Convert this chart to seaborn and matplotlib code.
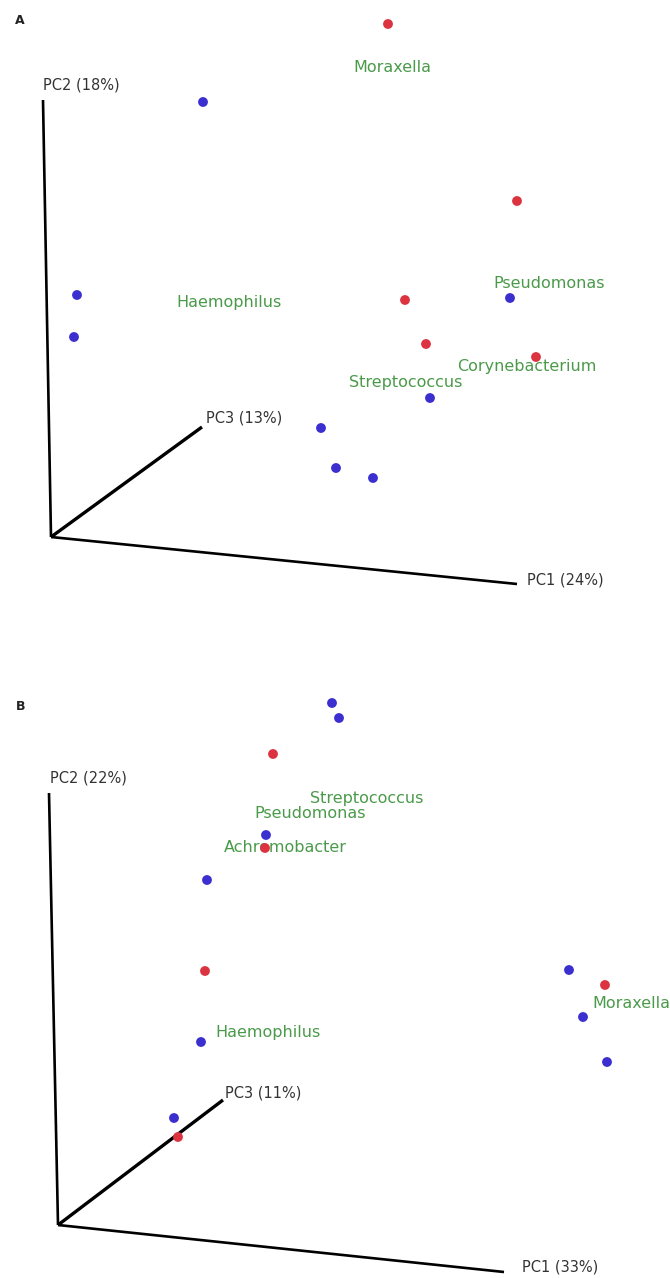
import matplotlib
matplotlib.use("Agg")
import matplotlib.pyplot as plt
import seaborn as sns
import pandas as pd

sns.set_theme(style="white")
plt.rcParams['font.family'] = ['DejaVu Sans']

# ---------------- data (projected screen positions, pixels) ----------------
# Panel A
a_red_x = [388, 517, 405, 426, 536]
a_red_y = [24, 201, 300, 344, 357]
a_blue_x = [203, 77, 74, 510, 430, 321, 336, 373]
a_blue_y = [102, 295, 337, 298, 398, 428, 468, 478]
a_taxa = ["Moraxella", "Haemophilus", "Pseudomonas", "Corynebacterium", "Streptococcus"]
a_taxa_x = [392, 229, 549, 527, 406]
a_taxa_y = [68, 303, 284, 366, 383]
a_axis_names = ["PC1 (24%)", "PC2 (18%)", "PC3 (13%)"]

# Panel B
b_red_x = [273, 265, 205, 605, 178]
b_red_y = [754, 848, 971, 985, 1137]
b_blue_x = [332, 339, 266, 207, 569, 583, 607, 201, 174]
b_blue_y = [703, 718, 835, 880, 970, 1017, 1062, 1042, 1118]
b_taxa = ["Streptococcus", "Pseudomonas", "Achromobacter", "Moraxella", "Haemophilus"]
b_taxa_x = [367, 310, 285, 592, 268]
b_taxa_y = [799, 814, 848, 1003, 1033]
b_axis_names = ["PC1 (33%)", "PC2 (22%)", "PC3 (11%)"]

W, H = 670, 1278
fig = plt.figure(figsize=(W / 100, H / 100), dpi=100)
ax = fig.add_axes([0, 0, 1, 1])

pts = pd.DataFrame({
    "x": a_red_x + a_blue_x + b_red_x + b_blue_x,
    "y": a_red_y + a_blue_y + b_red_y + b_blue_y,
    "group": (["red"] * len(a_red_x) + ["blue"] * len(a_blue_x)
              + ["red"] * len(b_red_x) + ["blue"] * len(b_blue_x)),
})

# pseudo-3D axes: origin, PC1 end, PC2 end, PC3 end
axes_geom = [
    dict(o=(51, 537), pc1=(517, 584), pc2=(43, 100), pc3=(202, 427),
         names=a_axis_names, l1=(527, 580), l2=(43, 85), l3=(206, 418),
         letter="A", lpos=(20, 20)),
    dict(o=(58, 1225), pc1=(504, 1272), pc2=(49, 793), pc3=(223, 1100),
         names=b_axis_names, l1=(522, 1267), l2=(50, 778), l3=(225, 1093),
         letter="B", lpos=(21, 707)),
]
for g in axes_geom:
    ox, oy = g["o"]
    for key, lw in (("pc1", 1.9), ("pc2", 1.9), ("pc3", 2.4)):
        ex, ey = g[key]
        ax.plot([ox, ex], [oy, ey], color="black", lw=lw, solid_capstyle="butt", zorder=1)
    for name, pos in zip(g["names"], (g["l1"], g["l2"], g["l3"])):
        ax.text(pos[0], pos[1], name, ha="left", va="center", fontsize=10.5,
                color="#333333", zorder=2)
    ax.text(g["lpos"][0], g["lpos"][1], g["letter"], ha="center", va="center",
            fontsize=9, fontweight="bold", color="#222222")

green = "#4a9a4a"
for t, x, y in zip(a_taxa, a_taxa_x, a_taxa_y):
    ax.text(x, y, t, ha="center", va="center", fontsize=11.5, color=green, zorder=2)
for t, x, y in zip(b_taxa, b_taxa_x, b_taxa_y):
    ha = "left" if t == "Moraxella" else "center"
    ax.text(x, y, t, ha=ha, va="center", fontsize=11.5, color=green, zorder=2)

sns.scatterplot(data=pts, x="x", y="y", hue="group",
                palette={"red": "#dc3340", "blue": "#3b2fcf"},
                s=50, linewidth=0, legend=False, ax=ax, zorder=3)
ax.set_xlim(0, W)
ax.set_ylim(H, 0)
ax.axis("off")

fig.savefig("out.png", dpi=100)
